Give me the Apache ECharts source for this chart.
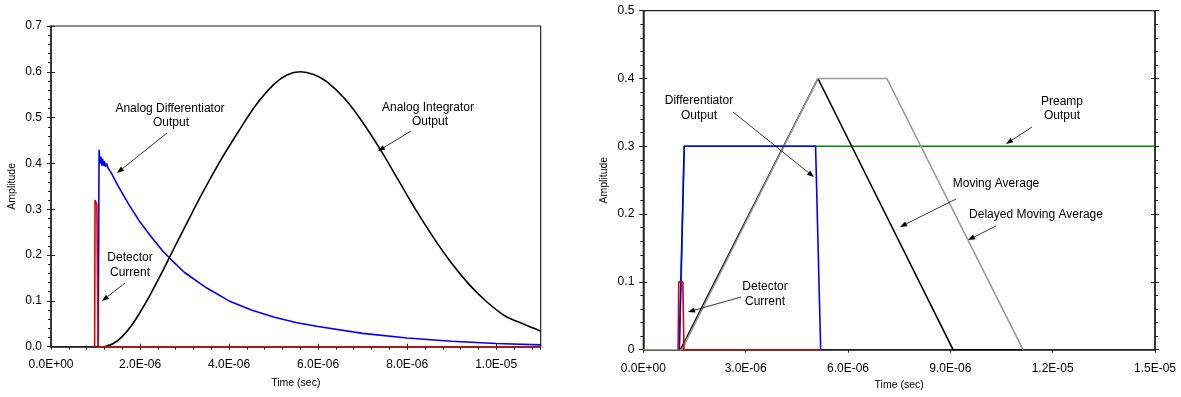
<!DOCTYPE html>
<html>
<head>
<meta charset="utf-8">
<script src="https://cdn.jsdelivr.net/npm/echarts@6/dist/echarts.min.js"></script>
<style>html,body{margin:0;padding:0;background:#fff;}#c{width:1181px;height:397px;}</style>
</head>
<body>
<div id="c"></div>
<script>
// ---------- DATA (time in microseconds, amplitude) ----------
// Left chart
const L_RED_T   = [0.98, 0.99, 1.02, 1.03, 1.05, 1.06, 11.0];
const L_RED_V   = [0, 0.32, 0.32, 0.31, 0.31, 0, 0];
const L_BLUE_T  = [1.06,1.08,1.10,1.12,1.14,1.16,1.18,1.20,1.22,1.25,1.28,1.35,1.5,1.75,2.0,2.25,2.5,2.75,3.0,3.5,4.0,4.5,5.0,5.5,6.0,7.0,8.0,9.0,10.0,11.0];
const L_BLUE_V  = [0,0.43,0.40,0.415,0.395,0.41,0.395,0.405,0.393,0.40,0.39,0.38,0.352,0.31,0.272,0.24,0.21,0.185,0.162,0.128,0.10,0.08,0.065,0.053,0.044,0.029,0.019,0.012,0.007,0.004];
const L_BLACK_T = [1.2,1.4,1.6,1.8,2.0,2.2,2.4,2.6,2.8,3.0,3.4,3.8,4.2,4.6,5.0,5.3,5.6,5.9,6.2,6.6,7.0,7.4,7.8,8.2,8.6,9.0,9.4,9.8,10.2,10.6,11.0];
const L_BLACK_V = [0,0.007,0.022,0.045,0.075,0.108,0.145,0.183,0.222,0.26,0.335,0.405,0.468,0.527,0.572,0.593,0.6,0.594,0.578,0.541,0.49,0.43,0.364,0.298,0.237,0.182,0.135,0.097,0.067,0.05,0.034];
const L_X_TICKS = [0, 2, 4, 6, 8, 10];          // labelled ticks (µs)

// Right chart
const R_GREEN_T = [0, 1.06, 1.2, 15.0];
const R_GREEN_V = [0, 0, 0.3, 0.3];
const R_BLACK_T = [1.09, 5.12, 9.08, 11.13];
const R_BLACK_V = [0, 0.4, 0, 0];
const R_GRAY_T  = [0, 1.13, 5.12, 7.14, 11.13];
const R_GRAY_V  = [0, 0, 0.4, 0.4, 0];
const R_BLUE_T  = [1.05, 1.2, 5.05, 5.2];
const R_BLUE_V  = [0, 0.3, 0.3, 0];
const R_RED_T   = [1.02, 1.04, 1.16, 1.19, 5.2];
const R_RED_V   = [0, 0.1, 0.1, 0, 0];

// ---------- helpers ----------
const US = 1e-6;
const pts = (T, V) => T.map((t, i) => [t * US, V[i]]);
function sci(v) {
  if (Math.abs(v) < 1e-15) return '0.0E+00';
  const parts = v.toExponential(1).split('e');
  const e = parseInt(parts[1], 10);
  const n = Math.abs(e);
  return parts[0] + 'E' + (e < 0 ? '-' : '+') + (n < 10 ? '0' : '') + n;
}
const FONT = 'Liberation Sans, Arial, sans-serif';
const AX = '#222';

const LG = { left: 51, top: 26, width: 489.7, height: 320.7 };
const RG = { left: 643.3, top: 10.7, width: 511.7, height: 339 };

function isTick(v, list) {
  return list.some(t => Math.abs(v - t * US) < 1e-3 * US);
}

const baseLine = { show: true, onZero: false, lineStyle: { color: AX, width: 1.5 } };
const noLine = { show: false, onZero: false };
const lbl = { color: '#000', fontFamily: FONT, fontSize: 12 };

const xAxes = [
  { gridIndex: 0, type: 'value', position: 'bottom', min: 0, max: 11 * US, interval: 0.4 * US,
    axisLine: baseLine, splitLine: { show: false },
    axisTick: { show: true, inside: false, length: 3, lineStyle: { color: AX, width: 1 } },
    axisLabel: Object.assign({}, lbl, { margin: 12, formatter: v => isTick(v, L_X_TICKS) ? sci(v) : '' }),
    name: 'Time (sec)', nameLocation: 'middle', nameGap: 31,
    nameTextStyle: { color: '#000', fontFamily: FONT, fontSize: 10.5 } },
  { gridIndex: 0, type: 'value', position: 'bottom', min: 0, max: 11 * US, interval: 2 * US,
    axisLine: noLine, splitLine: { show: false }, axisLabel: { show: false },
    axisTick: { show: true, inside: true, length: 3, lineStyle: { color: AX, width: 1 } } },
  { gridIndex: 1, type: 'value', position: 'bottom', min: 0, max: 15 * US, interval: 3 * US,
    axisLine: baseLine, splitLine: { show: false },
    axisTick: { show: true, inside: false, length: 3, lineStyle: { color: AX, width: 1 } },
    axisLabel: Object.assign({}, lbl, { margin: 13, formatter: v => sci(v) }),
    name: 'Time (sec)', nameLocation: 'middle', nameGap: 28,
    nameTextStyle: { color: '#000', fontFamily: FONT, fontSize: 10.5 } }
];

function yPair(grid, max, pos, withLabels, fmt, name, gap) {
  const outer = { gridIndex: grid, type: 'value', position: pos, min: 0, max: max, interval: 0.1,
    axisLine: baseLine, splitLine: { show: false },
    axisTick: { show: true, inside: false, length: 4, lineStyle: { color: AX, width: 1 } },
    minorTick: { show: true, splitNumber: 5, length: 3, lineStyle: { color: AX, width: 1 } },
    axisLabel: withLabels ? Object.assign({}, lbl, { margin: 9, formatter: fmt }) : { show: false } };
  if (name) {
    outer.name = name; outer.nameLocation = 'middle'; outer.nameGap = gap;
    outer.nameTextStyle = { color: '#000', fontFamily: FONT, fontSize: 10.5 };
  }
  const inner = { gridIndex: grid, type: 'value', position: pos, min: 0, max: max, interval: 0.1,
    axisLine: noLine, splitLine: { show: false }, axisLabel: { show: false },
    axisTick: { show: true, inside: true, length: 4, lineStyle: { color: AX, width: 1 } } };
  return [outer, inner];
}

const yAxes = [].concat(
  yPair(0, 0.7, 'left', true, v => v.toFixed(1), 'Amplitude', 33),
  yPair(1, 0.5, 'left', true, null, 'Amplitude', 34),
  yPair(1, 0.5, 'right', false, null, null, 0)
);

function line(xi, yi, data, color, z, smooth) {
  return { type: 'line', xAxisIndex: xi, yAxisIndex: yi, data: data, showSymbol: false, symbol: 'none',
    smooth: smooth || false,
    lineStyle: { color: color, width: 1.6 }, z: z, animation: false, silent: true };
}

const series = [
  line(0, 0, pts(L_BLACK_T, L_BLACK_V), '#000000', 2, 0.35),
  line(0, 0, pts(L_BLUE_T, L_BLUE_V), '#0000ff', 3),
  line(0, 0, pts(L_RED_T, L_RED_V), '#e00000', 4),
  line(2, 2, pts(R_GREEN_T, R_GREEN_V), '#008a00', 2),
  line(2, 2, pts(R_BLACK_T, R_BLACK_V), '#000000', 3),
  line(2, 2, pts(R_GRAY_T, R_GRAY_V), '#999999', 4),
  line(2, 2, pts(R_BLUE_T, R_BLUE_V), '#0000ff', 5),
  line(2, 2, pts(R_RED_T, R_RED_V), '#e00000', 6)
];

// ---------- annotations ----------
function txt(x, y, s) {
  return { type: 'text', x: x, y: y, z: 50, silent: true,
    style: { text: s, fill: '#000', font: '12px ' + FONT, textAlign: 'center', textVerticalAlign: 'middle' } };
}
function arrow(x1, y1, x2, y2) {
  const a = Math.atan2(y2 - y1, x2 - x1), L = 7, W = 2.6;
  const bx = x2 - L * Math.cos(a), by = y2 - L * Math.sin(a);
  const px = -Math.sin(a) * W, py = Math.cos(a) * W;
  return [
    { type: 'line', z: 50, silent: true, shape: { x1: x1, y1: y1, x2: bx, y2: by }, style: { stroke: '#000', lineWidth: 0.8 } },
    { type: 'polygon', z: 50, silent: true, shape: { points: [[x2, y2], [bx + px, by + py], [bx - px, by - py]] }, style: { fill: '#000' } }
  ];
}
const graphic = [].concat(
  txt(170, 109, 'Analog Differentiator'), txt(171, 123, 'Output'), arrow(167, 133, 117, 173),
  txt(130, 258, 'Detector'), txt(130, 272.5, 'Current'), arrow(125, 283, 102, 301),
  txt(428, 108, 'Analog Integrator'), txt(430, 122, 'Output'), arrow(411, 131, 378, 151),
  txt(699, 100.5, 'Differentiator'), txt(699, 116, 'Output'), arrow(733, 112, 814, 177),
  txt(1062, 101.5, 'Preamp'), txt(1062, 116, 'Output'), arrow(1032, 127, 1006, 144),
  txt(996, 184, 'Moving Average'), arrow(956, 199, 900, 227),
  txt(1036, 215, 'Delayed Moving Average'), arrow(996, 226, 968, 240),
  txt(765, 287, 'Detector'), txt(765, 301.5, 'Current'), arrow(741, 297, 688, 312)
);

const chart = echarts.init(document.getElementById('c'), null, { renderer: 'canvas' });
chart.setOption({
  animation: false,
  backgroundColor: '#fff',
  grid: [
    Object.assign({ show: true, borderColor: AX, borderWidth: 1.2, backgroundColor: 'transparent', containLabel: false }, LG),
    Object.assign({ show: true, borderColor: AX, borderWidth: 1.2, backgroundColor: 'transparent', containLabel: false }, RG)
  ],
  xAxis: xAxes,
  yAxis: yAxes,
  series: series,
  graphic: graphic
});
</script>
</body>
</html>
